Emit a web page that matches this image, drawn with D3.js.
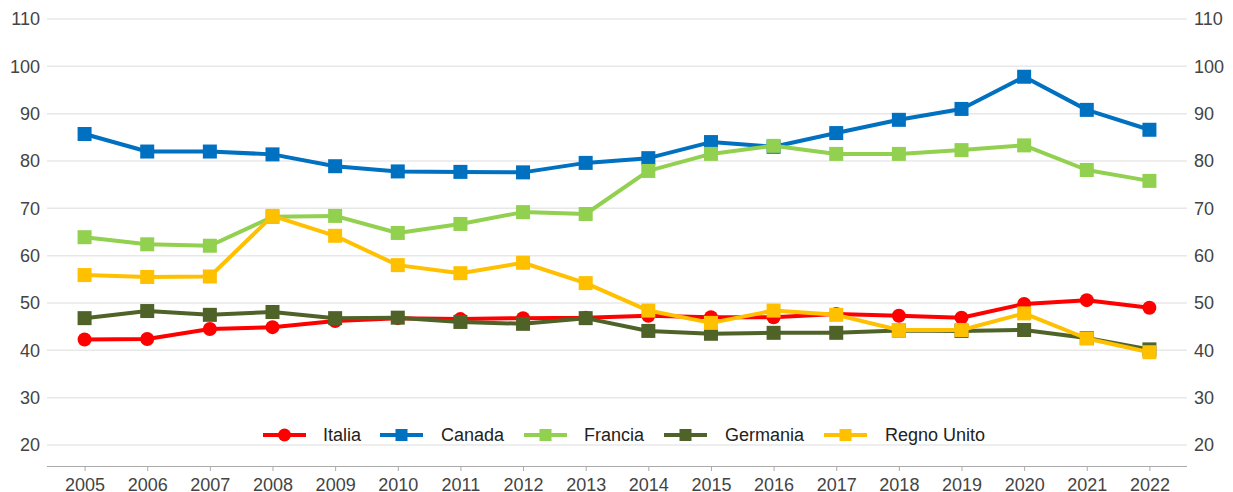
<!DOCTYPE html>
<html><head><meta charset="utf-8">
<script src="https://cdn.jsdelivr.net/npm/d3@7"></script>
<style>body{margin:0;background:#fff}svg{display:block;font-family:"Liberation Sans",Arial,sans-serif}</style>
</head><body><svg id="c" width="1233" height="492"></svg>
<script>
const years = ["2005","2006","2007","2008","2009","2010","2011","2012","2013","2014","2015","2016","2017","2018","2019","2020","2021","2022"];
const yTicks = [20,30,40,50,60,70,80,90,100,110];
const seriesNames = ["Italia","Canada","Francia","Germania","Regno Unito"];
const italia   = [42.3,42.4,44.5,44.9,46.2,46.8,46.6,46.8,46.9,47.3,47.0,47.0,47.7,47.3,46.9,49.8,50.6,49.0];
const canada   = [85.7,82.0,82.0,81.4,78.9,77.8,77.7,77.6,79.6,80.6,84.0,83.0,85.9,88.7,91.0,97.8,90.8,86.6];
const francia  = [63.9,62.4,62.1,68.2,68.4,64.8,66.7,69.2,68.8,77.9,81.5,83.2,81.5,81.5,82.3,83.3,78.1,75.8];
const germania = [46.8,48.3,47.5,48.1,46.8,46.9,46.0,45.6,46.8,44.1,43.5,43.7,43.7,44.2,44.1,44.3,42.6,40.2];
const regnoUnito = [55.9,55.5,55.6,68.4,64.2,58.0,56.3,58.5,54.2,48.4,45.8,48.4,47.5,44.3,44.3,47.8,42.5,39.6];
const colors = ["#ff0000","#0070c0","#92d050","#4f6228","#ffc000"];
const shapes = ["circle","square","square","square","square"];
const allValues = [italia,canada,francia,germania,regnoUnito];

const svg = d3.select("#c");
const pLeft = 47, pRight = 1187, pTop = 19, axisY = 466;
const x = d3.scalePoint().domain(years).range([pLeft,pRight]).padding(0.6);
const y = d3.scaleLinear().domain([20,110]).range([445,pTop]);
const FONT = "Liberation Sans, Arial, sans-serif";

// gridlines
svg.append("g").selectAll("line").data(yTicks).join("line")
  .attr("x1",pLeft).attr("x2",pRight).attr("y1",d=>y(d)).attr("y2",d=>y(d))
  .attr("stroke","#e8e8e8").attr("stroke-width",1.5);

// y axis labels left/right
const yl = d3.axisLeft(y).tickValues(yTicks).tickSize(0).tickPadding(7);
const gl = svg.append("g").attr("transform",`translate(${pLeft},0)`).call(yl);
const yr = d3.axisRight(y).tickValues(yTicks).tickSize(0).tickPadding(7);
const gr = svg.append("g").attr("transform",`translate(${pRight},0)`).call(yr);
[gl,gr].forEach(g=>{g.select(".domain").remove();
  g.selectAll("text").attr("font-size",18).attr("fill","#444").attr("font-family",FONT);});

// x axis
const xa = d3.axisBottom(x).tickSize(5).tickPadding(7).tickSizeOuter(0);
const gx = svg.append("g").attr("transform",`translate(0,${axisY})`).call(xa);
gx.select(".domain").attr("stroke","#aaa").attr("stroke-width",1.2).attr("d",`M${pLeft},0.5H${pRight}`);
gx.selectAll(".tick line").attr("stroke","#aaa");
gx.selectAll("text").attr("font-size",18).attr("fill","#444").attr("font-family",FONT);

// series
const line = d3.line().x((d,i)=>x(years[i])).y(d=>y(d));
function marker(g, shape, color, cx, cy, size){
  if(shape==="circle") g.append("circle").attr("cx",cx).attr("cy",cy).attr("r",size/2).attr("fill",color);
  else g.append("rect").attr("x",cx-size/2).attr("y",cy-size/2).attr("width",size).attr("height",size).attr("fill",color);
}
allValues.forEach((vals,k)=>{
  const g = svg.append("g");
  g.append("path").datum(vals).attr("d",line).attr("fill","none").attr("stroke",colors[k]).attr("stroke-width",4).attr("stroke-linejoin","round");
  vals.forEach((v,i)=>marker(g, shapes[k], colors[k], x(years[i]), y(v), 14));
});

// legend
const legX = [263,380,524,664,824];
const legTextX = [323,441,584,725,885];
const ly = 435;
seriesNames.forEach((n,k)=>{
  const g = svg.append("g");
  g.append("line").attr("x1",legX[k]).attr("x2",legX[k]+43).attr("y1",ly).attr("y2",ly).attr("stroke",colors[k]).attr("stroke-width",4);
  marker(g, shapes[k], colors[k], legX[k]+21.5, ly, shapes[k]==="circle"?13:12);
  g.append("text").attr("x",legTextX[k]).attr("y",441).attr("font-size",18).attr("fill","#222").attr("font-family",FONT).text(n);
});
</script></body></html>
